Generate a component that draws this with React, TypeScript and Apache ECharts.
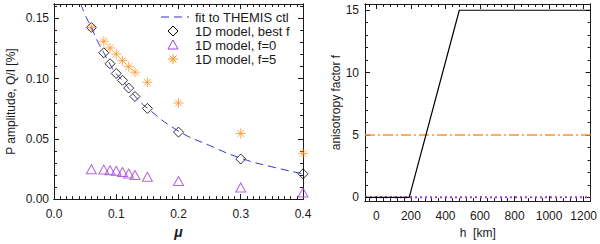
import React, { useEffect, useRef } from "react";
import * as echarts from "echarts";

// ---- data (left panel) ----
const muFit = [0.043, 0.05, 0.06, 0.07, 0.08, 0.09, 0.1, 0.11, 0.12, 0.13, 0.15, 0.2, 0.25, 0.3, 0.35, 0.4];
const qFit = [0.162, 0.153, 0.1425, 0.131, 0.1215, 0.112, 0.104, 0.0985, 0.092, 0.0855, 0.0755, 0.0565, 0.0445, 0.034, 0.0268, 0.021];

const muModel = [0.06, 0.08, 0.09, 0.1, 0.11, 0.12, 0.13, 0.15, 0.2, 0.3, 0.4];
const qBest = [0.1425, 0.1215, 0.1124, 0.1043, 0.0986, 0.0922, 0.0852, 0.0753, 0.0556, 0.0333, 0.021];
const qF0 = [0.0248, 0.0245, 0.024, 0.0235, 0.0225, 0.0212, 0.02, 0.0185, 0.015, 0.0097, 0.0055];
const qF5 = [0.1425, 0.131, 0.1255, 0.1204, 0.115, 0.11, 0.1054, 0.097, 0.0798, 0.0545, 0.038];

const leftXTicks = [0, 0.1, 0.2, 0.3, 0.4];
const leftYTicks = [0, 0.05, 0.1, 0.15];

// ---- data (right panel) ----
const hBest = [-66, 190, 480, 1240];
const fBest = [0, 0, 15, 15];
const hConst = [-66, 1240];
const fConst5 = [5, 5];
const fConst0 = [0, 0];

const rightXTicks = [0, 200, 400, 600, 800, 1000, 1200];
const rightYTicks = [0, 5, 10, 15];

const legendLabels = ["fit to THEMIS ctl", "1D model, best f", "1D model, f=0", "1D model, f=5"];

const BLUE = "#3535c8";
const ORANGE = "#ff9426";
const PURPLE = "#a040d8";
const INK = "#1a1a1a";
const FONT = "Liberation Sans";

const STAR = "path://M0,5L10,5M5,0L5,10M1.6,1.6L8.4,8.4M1.6,8.4L8.4,1.6";

function range(a: number, b: number, step: number) {
  const out: number[] = [];
  const n = Math.round((b - a) / step);
  for (let i = 0; i <= n; i++) out.push(+(a + i * step).toFixed(6));
  return out;
}

function axesFor(
  dim: "x" | "y",
  grid: number,
  min: number,
  max: number,
  majors: number[],
  minors: number[],
  fmt: (v: number) => string,
  name: string,
  nameGap: number,
  nameStyle: any,
  labelMargin: number
) {
  const main = dim === "x" ? "bottom" : "left";
  const other = dim === "x" ? "top" : "right";
  const base = {
    type: "value",
    gridIndex: grid,
    min,
    max,
    splitLine: { show: false },
    axisLine: { show: true, onZero: false, lineStyle: { color: INK, width: 1 } },
  };
  const mk = (pos: string, vals: number[], len: number, labels: boolean) => ({
    ...base,
    position: pos,
    axisTick: { show: true, inside: true, length: len, customValues: vals, lineStyle: { color: INK, width: 1 } },
    axisLabel: labels
      ? { show: true, customValues: majors, formatter: (v: number) => fmt(v), fontFamily: FONT, fontSize: 12, color: INK, margin: labelMargin }
      : { show: false },
  });
  const a1: any = mk(main, majors, 5, true);
  a1.name = name;
  a1.nameLocation = "middle";
  a1.nameGap = nameGap;
  a1.nameTextStyle = nameStyle;
  return [a1, mk(main, minors, 3, false), mk(other, majors, 5, false), mk(other, minors, 3, false)];
}

export default function App() {
  const ref = useRef<HTMLDivElement>(null);
  useEffect(() => {
    if (!ref.current) return;
    const chart = echarts.init(ref.current, null, { renderer: "svg" });

    const lxMinor = range(0, 0.4, 0.01);
    const lyMinor = range(0, 0.16, 0.01);
    const rxMinor = range(-40, 1240, 40);
    const ryMinor = range(0, 15, 1);

    const xAxis = [
      ...axesFor("x", 0, 0, 0.4, leftXTicks, lxMinor, (v) => v.toFixed(1), "\u03bc", 22,
        { fontFamily: FONT, fontSize: 14, fontWeight: "bold", fontStyle: "italic", color: INK }, 9),
      ...axesFor("x", 1, -66, 1240, rightXTicks, rxMinor, (v) => String(v), "h  [km]", 22,
        { fontFamily: FONT, fontSize: 12, color: INK }, 9),
    ];
    const yAxis = [
      ...axesFor("y", 0, 0, 0.162, leftYTicks, lyMinor, (v) => v.toFixed(2), "P amplitude, Q/I [%]", 37,
        { fontFamily: FONT, fontSize: 12, color: INK }, 5),
      ...axesFor("y", 1, -0.3, 15.5, rightYTicks, ryMinor, (v) => String(v), "anisotropy factor f", 23,
        { fontFamily: FONT, fontSize: 12, color: INK }, 6),
    ];

    const z = (a: number[], b: number[]) => a.map((v, i) => [v, b[i]]);

    const legendX = 173;
    const rows = [17, 31, 45, 59];
    const graphic: any[] = [
      { type: "line", shape: { x1: 161, y1: rows[0], x2: 189, y2: rows[0] }, style: { stroke: BLUE, lineWidth: 1, lineDash: [8, 5] } },
      { type: "polygon", shape: { points: [[legendX, rows[1] - 5], [legendX + 5, rows[1]], [legendX, rows[1] + 5], [legendX - 5, rows[1]]] }, style: { fill: "none", stroke: "#000", lineWidth: 1 } },
      { type: "polygon", shape: { points: [[legendX - 5, rows[2] + 4], [legendX, rows[2] - 5], [legendX + 5, rows[2] + 4]] }, style: { fill: "none", stroke: PURPLE, lineWidth: 1 } },
      { type: "line", shape: { x1: legendX - 5, y1: rows[3], x2: legendX + 5, y2: rows[3] }, style: { stroke: ORANGE, lineWidth: 1 } },
      { type: "line", shape: { x1: legendX, y1: rows[3] - 5, x2: legendX, y2: rows[3] + 5 }, style: { stroke: ORANGE, lineWidth: 1 } },
      { type: "line", shape: { x1: legendX - 3.5, y1: rows[3] - 3.5, x2: legendX + 3.5, y2: rows[3] + 3.5 }, style: { stroke: ORANGE, lineWidth: 1 } },
      { type: "line", shape: { x1: legendX - 3.5, y1: rows[3] + 3.5, x2: legendX + 3.5, y2: rows[3] - 3.5 }, style: { stroke: ORANGE, lineWidth: 1 } },
      ...legendLabels.map((t, i) => ({
        type: "text",
        x: 195,
        y: rows[i],
        style: { text: t, fontFamily: FONT, fontSize: 13, fill: INK, verticalAlign: "middle", align: "left" },
      })),
    ];

    chart.setOption({
      animation: false,
      backgroundColor: "#fff",
      grid: [
        { left: 54, top: 4, width: 249, height: 201 },
        { left: 365, top: 4, width: 230, height: 201 },
      ],
      xAxis,
      yAxis,
      graphic,
      series: [
        {
          type: "line", xAxisIndex: 0, yAxisIndex: 0, data: z(muFit, qFit), smooth: true, showSymbol: false,
          lineStyle: { color: BLUE, width: 1, type: [8, 5] }, clip: true,
        },
        {
          type: "scatter", xAxisIndex: 0, yAxisIndex: 0, data: z(muModel, qBest), symbol: "diamond", symbolSize: 10,
          itemStyle: { color: "transparent", borderColor: "#000", borderWidth: 1 },
        },
        {
          type: "scatter", xAxisIndex: 0, yAxisIndex: 0, data: z(muModel, qF0), symbol: "triangle", symbolSize: [10, 9],
          itemStyle: { color: "transparent", borderColor: PURPLE, borderWidth: 1 },
        },
        {
          type: "scatter", xAxisIndex: 0, yAxisIndex: 0, data: z(muModel, qF5), symbol: STAR, symbolSize: 10,
          itemStyle: { color: "transparent", borderColor: ORANGE, borderWidth: 1 },
        },
        {
          type: "line", xAxisIndex: 4, yAxisIndex: 4, data: z(hConst, fConst0), showSymbol: false,
          lineStyle: { color: PURPLE, width: 2, type: [2, 3] }, z: 3,
        },
        {
          type: "line", xAxisIndex: 4, yAxisIndex: 4, data: z(hConst, fConst5), showSymbol: false,
          lineStyle: { color: ORANGE, width: 1.4, type: [10, 3, 2, 3] },
        },
        {
          type: "line", xAxisIndex: 4, yAxisIndex: 4, data: z(hBest, fBest), showSymbol: false,
          lineStyle: { color: "#000", width: 1.2 }, z: 4,
        },
      ],
    });
    return () => chart.dispose();
  }, []);
  return <div ref={ref} style={{ position: "fixed", left: 0, top: 0, width: 600, height: 244 }} />;
}
